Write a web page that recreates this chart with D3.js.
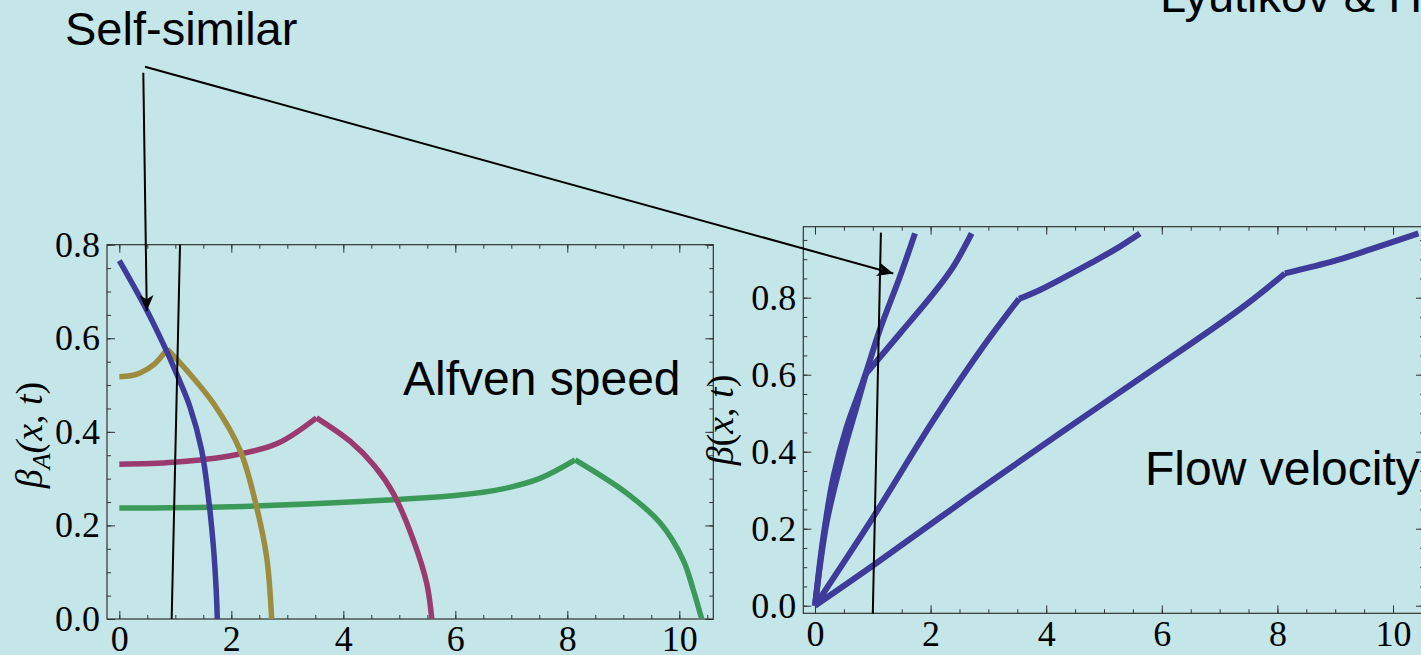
<!DOCTYPE html>
<html>
<head>
<meta charset="utf-8">
<script src="https://cdn.jsdelivr.net/npm/d3@7"></script>
<style>
  html, body { margin: 0; padding: 0; background: #c4e6e8; overflow: hidden; }
  svg { display: block; }
  .tick text { font-family: "Liberation Serif", "DejaVu Serif", serif; font-size: 36px; fill: #000; }
  .tick line { stroke: #333; }
  .domain { display: none; }
</style>
</head>
<body>
<svg></svg>
<script>
// Alfven speed panel, [x, beta_A] points; each curve split at its kink
const alfvenBlue = [[0, 0.766], [0.25, 0.713], [0.49, 0.66], [0.82, 0.579], [1.02, 0.525], [1.26, 0.454], [1.47, 0.361], [1.59, 0.261], [1.68, 0.155], [1.73, 0.062], [1.75, 0]];
const alfvenGoldUp = [[0, 0.518], [0.2, 0.52], [0.37, 0.526], [0.61, 0.543], [0.855, 0.577]];
const alfvenGoldDown = [[0.855, 0.577], [1.2, 0.532], [1.68, 0.461], [2.155, 0.361], [2.45, 0.24], [2.63, 0.133], [2.69, 0.06], [2.72, 0]];
const alfvenMagentaUp = [[0, 0.331], [0.97, 0.335], [2.04, 0.35], [2.82, 0.375], [3.52, 0.43]];
const alfvenMagentaDown = [[3.52, 0.43], [4.12, 0.38], [4.55, 0.328], [4.89, 0.269], [5.25, 0.169], [5.49, 0.076], [5.58, 0]];
const alfvenGreenUp = [[0, 0.237], [2, 0.24], [4.3, 0.251], [6.08, 0.265], [6.8, 0.277], [7.5, 0.3], [8.14, 0.34]];
const alfvenGreenDown = [[8.14, 0.34], [9.06, 0.269], [9.66, 0.205], [10.07, 0.126], [10.25, 0.062], [10.4, 0]];

// Flow velocity panel, [x, beta]
const flow1 = [[0, 0], [0.145, 0.179], [0.32, 0.335], [0.55, 0.465], [0.84, 0.586], [1.12, 0.716], [1.47, 0.855], [1.73, 0.967]];
const flow2Up = [[0, 0], [0.2, 0.215], [0.49, 0.396], [0.72, 0.517], [0.88, 0.602]];
const flow2Down = [[0.88, 0.602], [1.47, 0.707], [2.05, 0.811], [2.39, 0.88], [2.71, 0.967]];
const flow3Up = [[0, 0], [1.01, 0.231], [2.05, 0.482], [2.91, 0.673], [3.53, 0.797]];
const flow3Down = [[3.53, 0.797], [3.89, 0.82], [4.76, 0.889], [5.2, 0.926], [5.62, 0.967]];
const flow4Up = [[0, 0], [1.01, 0.105], [2.62, 0.278], [4.24, 0.448], [5.62, 0.59], [7.35, 0.77], [8.13, 0.863]];
const flow4Down = [[8.13, 0.863], [9.0, 0.896], [9.66, 0.928], [10.44, 0.967]];

// black "self-similar" guide lines, data coords of each panel
const guideLeft = [[0.935, 0], [1.084, 0.8]];
const guideRight = [[1.0, -0.02], [1.14, 0.969]];

const xTicks = [0, 2, 4, 6, 8, 10];
const yTicks = [0, 0.2, 0.4, 0.6, 0.8];

const W = 1421, H = 655;
const svg = d3.select('svg').attr('width', W).attr('height', H);
svg.append('rect').attr('width', W).attr('height', H).attr('fill', '#c4e6e8');

const defs = svg.append('defs');
defs.append('marker')
  .attr('id', 'head')
  .attr('viewBox', '0 0 16 14')
  .attr('refX', 16).attr('refY', 7)
  .attr('markerWidth', 16).attr('markerHeight', 14)
  .attr('markerUnits', 'userSpaceOnUse')
  .attr('orient', 'auto')
  .append('path').attr('d', 'M0,0 L16,7 L0,14 L4,7 Z').attr('fill', '#000');

function panel(id, box, xDom, yDom, yMax, curves, guide, yLabel) {
  const x = d3.scaleLinear().domain(xDom).range([box.left, box.right]);
  const y = d3.scaleLinear().domain(yDom).range([box.bottom, box.top]);
  const g = svg.append('g');

  defs.append('clipPath').attr('id', 'clip' + id)
    .append('rect')
    .attr('x', box.left).attr('y', box.top)
    .attr('width', box.right - box.left).attr('height', box.bottom - box.top);

  const minorX = d3.range(0, 10.6, 0.5);
  const minorY = d3.range(0, yMax + 0.001, 0.05);

  // minor ticks, all four sides, pointing in
  g.append('g').attr('transform', `translate(0,${box.bottom})`)
    .call(d3.axisBottom(x).tickValues(minorX).tickFormat('').tickSize(-4));
  g.append('g').attr('transform', `translate(0,${box.top})`)
    .call(d3.axisTop(x).tickValues(minorX).tickFormat('').tickSize(-4));
  g.append('g').attr('transform', `translate(${box.left},0)`)
    .call(d3.axisLeft(y).tickValues(minorY).tickFormat('').tickSize(-4));
  g.append('g').attr('transform', `translate(${box.right},0)`)
    .call(d3.axisRight(y).tickValues(minorY).tickFormat('').tickSize(-4));

  // major ticks
  g.append('g').attr('transform', `translate(0,${box.bottom})`)
    .call(d3.axisBottom(x).tickValues(xTicks).tickSize(-8).tickPadding(box.xPad));
  g.append('g').attr('transform', `translate(0,${box.top})`)
    .call(d3.axisTop(x).tickValues(xTicks).tickFormat('').tickSize(-8));
  g.append('g').attr('transform', `translate(${box.left},0)`)
    .call(d3.axisLeft(y).tickValues(yTicks).tickFormat(d3.format('.1f')).tickSize(-8).tickPadding(7));
  g.append('g').attr('transform', `translate(${box.right},0)`)
    .call(d3.axisRight(y).tickValues(yTicks).tickFormat('').tickSize(-8));

  g.append('rect')
    .attr('x', box.left).attr('y', box.top)
    .attr('width', box.right - box.left).attr('height', box.bottom - box.top)
    .attr('fill', 'none').attr('stroke', '#333').attr('stroke-width', 1.2);

  const line = d3.line().x(d => x(d[0])).y(d => y(d[1])).curve(d3.curveCatmullRom.alpha(0.5));
  const plot = g.append('g').attr('clip-path', `url(#clip${id})`);
  curves.forEach(c => {
    plot.append('path')
      .attr('d', line(c.pts))
      .attr('fill', 'none')
      .attr('stroke', c.color)
      .attr('stroke-width', c.w)
      .attr('stroke-linejoin', 'miter');
  });

  g.append('path')
    .attr('d', d3.line().x(d => x(d[0])).y(d => y(d[1]))(guide))
    .attr('fill', 'none').attr('stroke', '#000').attr('stroke-width', 2);

  // rotated axis label
  const lab = g.append('text')
    .attr('transform', `translate(${yLabel.x},${yLabel.y}) rotate(-90)`)
    .attr('text-anchor', 'middle')
    .attr('font-family', '"Liberation Serif", serif')
    .attr('font-size', 38)
    .attr('font-style', 'italic');
  yLabel.parts.forEach(p => {
    const t = lab.append('tspan').text(p.t);
    if (p.sub) t.attr('font-size', 26).attr('dy', 8);
    if (p.up) t.attr('dy', -8);
    if (p.roman) t.attr('font-style', 'normal');
  });

  return {x, y};
}

const blue = '#3e3b9b', gold = '#9d8c3e', magenta = '#9b3a6f', green = '#3b9a5a';

const L = panel('L', {left: 107, right: 713.3, top: 244.7, bottom: 619, xPad: 6},
  [-0.22, 10.607], [0, 0.8], 0.8,
  [
    {pts: alfvenGreenUp, color: green, w: 5.5},
    {pts: alfvenGreenDown, color: green, w: 5.5},
    {pts: alfvenMagentaUp, color: magenta, w: 5.5},
    {pts: alfvenMagentaDown, color: magenta, w: 5.5},
    {pts: alfvenGoldUp, color: gold, w: 5.5},
    {pts: alfvenGoldDown, color: gold, w: 5.5},
    {pts: alfvenBlue, color: blue, w: 5.5}
  ],
  guideLeft,
  {x: 42, y: 435, parts: [{t: 'β'}, {t: 'A', sub: true}, {t: '(x', up: true}, {t: ', ', roman: true}, {t: 't'}, {t: ')', roman: true}]});

const R = panel('R', {left: 803.3, right: 1424, top: 226.7, bottom: 613.3, xPad: 7},
  [-0.2024, 10.536], [-0.0197, 0.9844], 0.95,
  [
    {pts: flow1, color: blue, w: 6},
    {pts: flow2Up, color: blue, w: 6},
    {pts: flow2Down, color: blue, w: 6},
    {pts: flow3Up, color: blue, w: 6},
    {pts: flow3Down, color: blue, w: 6},
    {pts: flow4Up, color: blue, w: 6},
    {pts: flow4Down, color: blue, w: 6}
  ],
  guideRight,
  {x: 733, y: 420, parts: [{t: 'β'}, {t: '(', roman: true}, {t: 'x'}, {t: ', ', roman: true}, {t: 't'}, {t: ')', roman: true}]});

// annotations
const sans = '"Liberation Sans", Arial, sans-serif';
svg.append('text').attr('x', 65).attr('y', 45).attr('font-family', sans).attr('font-size', 47).text('Self-similar');
svg.append('text').attr('x', 1160).attr('y', 12).attr('font-family', sans).attr('font-size', 47).text('Lyutikov & Hadden');
svg.append('text').attr('x', 403).attr('y', 395).attr('font-family', sans).attr('font-size', 48).text('Alfven speed');
svg.append('text').attr('x', 1145).attr('y', 485).attr('font-family', sans).attr('font-size', 48).text('Flow velocity');

// arrows from the label to the self-similar points
svg.append('line')
  .attr('x1', 143.3).attr('y1', 72.7)
  .attr('x2', L.x(0.49)).attr('y2', L.y(0.658))
  .attr('stroke', '#000').attr('stroke-width', 2).attr('marker-end', 'url(#head)');
svg.append('line')
  .attr('x1', 145).attr('y1', 66.7)
  .attr('x2', R.x(1.355)).attr('y2', R.y(0.863))
  .attr('stroke', '#000').attr('stroke-width', 2).attr('marker-end', 'url(#head)');
</script>
</body>
</html>
